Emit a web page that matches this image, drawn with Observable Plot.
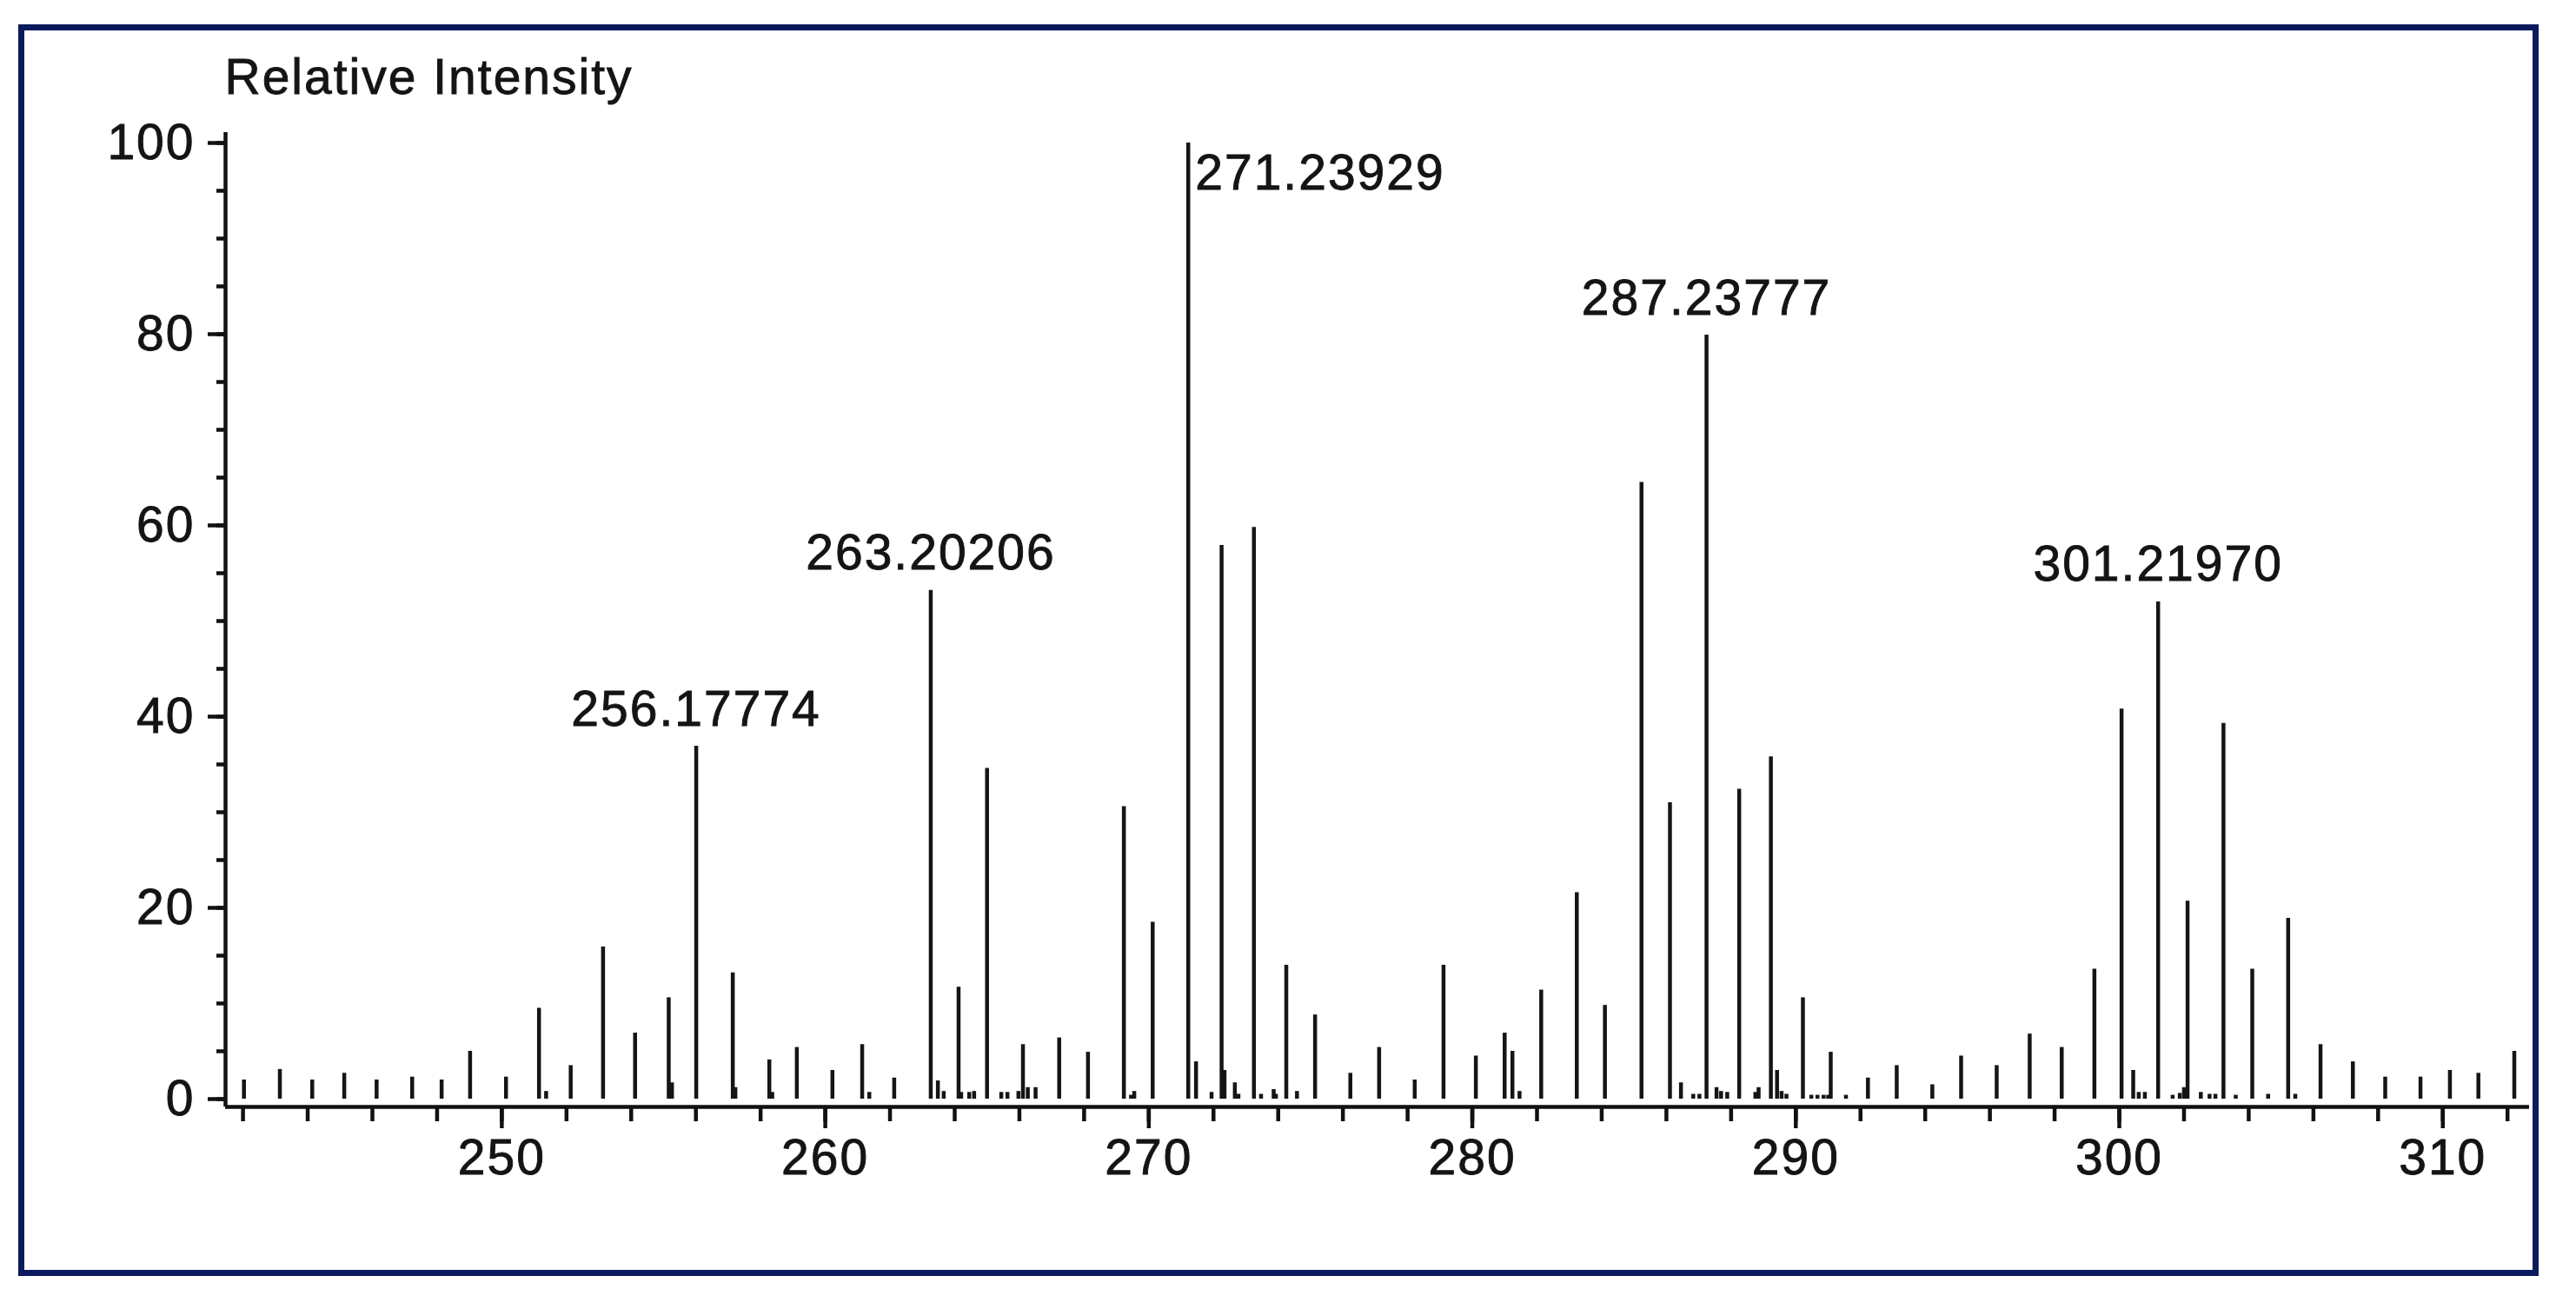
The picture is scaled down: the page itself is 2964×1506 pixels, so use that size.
<!DOCTYPE html>
<html>
<head>
<meta charset="utf-8">
<script src="https://cdn.jsdelivr.net/npm/d3@7"></script>
<script src="https://cdn.jsdelivr.net/npm/@observablehq/plot@0.6"></script>
<style>
  html, body { margin: 0; padding: 0; background: #fff; }
  #wrap { position: relative; width: 2964px; height: 1506px; overflow: hidden; }
  #frame { position: absolute; left: 21px; top: 28px; width: 2900px; height: 1440px;
           box-sizing: border-box; border: 7px solid #0b1a5c; pointer-events: none; }
  #wrap svg text { stroke: #141414; stroke-width: 0.9px; paint-order: stroke; }
</style>
</head>
<body>
<div id="wrap"><div id="frame"></div></div>
<script>
// ---- data ----
const mz = [
  242.03, 243.14, 244.14, 245.13, 246.13, 247.23, 248.14, 249.02, 250.13, 251.15,
  251.37, 252.13, 253.13, 254.12, 255.16, 255.26, 256.01, 257.14, 257.22, 258.27,
  258.36, 259.12, 260.22, 261.14, 261.36, 262.13, 263.26, 263.48, 263.66, 264.12,
  264.20, 264.45, 264.60, 265.00, 265.44, 265.63, 265.97, 266.11, 266.26, 266.50,
  267.23, 268.12, 269.23, 269.45, 269.55, 270.12, 271.22, 271.46, 271.94, 272.25,
  272.34, 272.66, 272.77, 273.25, 273.47, 273.86, 273.93, 274.25, 274.58, 275.14,
  276.23, 277.12, 278.22, 279.11, 280.11, 281.00, 281.24, 281.46, 282.13, 283.23,
  284.10, 285.23, 286.11, 286.45, 286.83, 287.02, 287.24, 287.55, 287.69, 287.88,
  288.25, 288.75, 288.85, 289.23, 289.42, 289.56, 289.71, 290.22, 290.48, 290.67,
  290.86, 291.00, 291.08, 291.55, 292.23, 293.12, 294.22, 295.11, 296.21, 297.23,
  298.22, 299.23, 300.07, 300.43, 300.60, 300.79, 301.20, 301.65, 301.87, 302.00,
  302.11, 302.52, 302.79, 302.97, 303.22, 303.60, 304.11, 304.60, 305.22, 305.44,
  306.22, 307.22, 308.22, 309.31, 310.22, 311.10, 312.21
];
const intensity = [
  2.0, 3.1, 2.0, 2.7, 2.0, 2.3, 2.0, 5.0, 2.3, 9.5,
  0.8, 3.5, 15.9, 6.9, 10.6, 1.7, 36.9, 13.2, 1.2, 4.1,
  0.7, 5.4, 3.0, 5.7, 0.7, 2.2, 53.2, 1.9, 0.8, 11.7,
  0.7, 0.7, 0.8, 34.6, 0.7, 0.7, 0.8, 5.7, 1.2, 1.2,
  6.4, 4.9, 30.6, 0.4, 0.8, 18.5, 100, 3.9, 0.7, 57.9,
  3.0, 1.7, 0.5, 59.8, 0.5, 1.0, 0.5, 14.0, 0.8, 8.8,
  2.7, 5.4, 2.0, 14.0, 4.5, 6.9, 5.0, 0.8, 11.4, 21.6,
  9.8, 64.5, 31.0, 1.7, 0.5, 0.5, 79.9, 1.2, 0.8, 0.7,
  32.4, 0.7, 1.2, 35.8, 3.0, 0.8, 0.5, 10.6, 0.4, 0.4,
  0.4, 0.4, 4.9, 0.4, 2.2, 3.5, 1.5, 4.5, 3.5, 6.8,
  5.4, 13.6, 40.8, 3.0, 0.7, 0.7, 52.0, 0.4, 0.6, 1.2,
  20.7, 0.7, 0.5, 0.5, 39.3, 0.4, 13.6, 0.5, 18.9, 0.5,
  5.7, 3.9, 2.3, 2.3, 3.0, 2.7, 5.0
];
// annotated peaks
const annotMz   = [256.01, 263.26, 271.22, 287.24, 301.20];
const annotText = ["256.17774", "263.20206", "271.23929", "287.23777", "301.21970"];
const annotSide = ["above", "above", "right", "above", "above"];
// axis ticks
const xMajorTicks = [250, 260, 270, 280, 290, 300, 310];
const xMinorTicks = d3.range(242, 313, 2);
const yMajorTicks = [0, 20, 40, 60, 80, 100];
const yMinorTicks = d3.range(0, 101, 5);
const yLabel = "Relative Intensity";

// ---- build tables ----
const peaks = mz.map((m, i) => ({mz: m, intensity: intensity[i]}));
const annots = annotMz.map((m, i) => ({
  mz: m,
  intensity: intensity[mz.indexOf(m)],
  text: annotText[i],
  side: annotSide[i]
}));

const xDomain = [241.46, 312.68];
const yDomain = [-0.82, 101.09];
const ink = "#151515";

const chart = Plot.plot({
  width: 2964,
  height: 1506,
  marginLeft: 259,
  marginRight: 54,
  marginTop: 152,
  marginBottom: 233,
  x: {domain: xDomain},
  y: {domain: yDomain},
  style: "font-family: 'Liberation Sans', Arial, sans-serif; font-size: 57px; letter-spacing: 2px; color: #141414; background: transparent;",
  marks: [
    // stems
    Plot.ruleX(peaks, {x: "mz", y1: 0, y2: "intensity", stroke: ink, strokeWidth: 4.5}),
    // axis lines
    Plot.ruleY([yDomain[0]], {stroke: "#111", strokeWidth: 4.5}),
    Plot.ruleX([xDomain[0]], {stroke: "#111", strokeWidth: 4.5}),
    // y axis
    Plot.axisY({ticks: yMinorTicks, tickSize: 10, text: null, label: null, strokeWidth: 4.5, stroke: "#111"}),
    Plot.axisY({ticks: yMajorTicks, tickSize: 20, tickPadding: 15, label: null, strokeWidth: 4.5, stroke: "#111", fontSize: 57}),
    // x axis
    Plot.axisX({ticks: xMinorTicks, tickSize: 17, text: null, label: null, strokeWidth: 4.5, stroke: "#111"}),
    Plot.axisX({ticks: xMajorTicks, tickSize: 25, tickPadding: 12, label: null, strokeWidth: 4.5, stroke: "#111", fontSize: 57}),
    // y label
    Plot.text([yLabel], {frameAnchor: "top-left", text: d => d, textAnchor: "start", lineAnchor: "bottom", dy: -45, dx: -1, fontSize: 57, fill: "#141414"}),
    // peak annotations
    Plot.text(annots.filter(d => d.side === "above"), {x: "mz", y: "intensity", text: "text", lineAnchor: "bottom", dy: -24, fontSize: 57, fill: "#141414"}),
    Plot.text(annots.filter(d => d.side === "right"), {x: "mz", y: "intensity", text: "text", textAnchor: "start", lineAnchor: "top", dx: 8, dy: 13, fontSize: 57, fill: "#141414"})
  ]
});
chart.style.position = "absolute";
chart.style.left = "0";
chart.style.top = "0";
document.getElementById("wrap").insertBefore(chart, document.getElementById("frame"));
</script>
</body>
</html>
